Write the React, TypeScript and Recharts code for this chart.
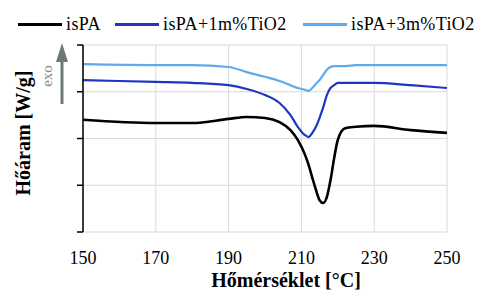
import { CartesianGrid, Legend, Line, LineChart, XAxis, YAxis } from "recharts";

// temperature [°C]
const temps = [150, 170, 180, 190, 195, 200, 204, 207, 209, 211, 212, 213, 214, 215, 216, 217, 218, 219, 220, 222, 225, 230, 240, 250];
// heat flow, arbitrary units
const isPA = [2.4, 2.33, 2.33, 2.42, 2.46, 2.44, 2.35, 2.18, 1.97, 1.65, 1.43, 1.16, 0.9, 0.68, 0.62, 0.75, 1.11, 1.58, 1.97, 2.22, 2.25, 2.27, 2.18, 2.12];
const tio1 = [3.25, 3.21, 3.19, 3.14, 3.06, 2.93, 2.76, 2.5, 2.25, 2.07, 2.03, 2.12, 2.25, 2.44, 2.67, 2.93, 3.08, 3.14, 3.19, 3.19, 3.19, 3.19, 3.14, 3.08];
const tio3 = [3.59, 3.57, 3.57, 3.53, 3.42, 3.32, 3.23, 3.14, 3.08, 3.04, 3.02, 3.08, 3.17, 3.25, 3.36, 3.47, 3.53, 3.55, 3.55, 3.55, 3.57, 3.57, 3.57, 3.57];
const xTicks = [150, 170, 190, 210, 230, 250];
const yTicks = [0, 1, 2, 3, 4];

const data = temps.map((t, i) => ({ t, isPA: isPA[i], tio1: tio1[i], tio3: tio3[i] }));

const series = [
  { key: "isPA", name: "isPA", color: "#000000", width: 2.6 },
  { key: "tio1", name: "isPA+1m%TiO2", color: "#1f35c4", width: 2.2 },
  { key: "tio3", name: "isPA+3m%TiO2", color: "#5eaaec", width: 2.2 },
];

const legendPos = [18, 115, 303];

const serif = "'Liberation Serif', 'Times New Roman', serif";

function renderLegend(props: any) {
  const payload = props.payload || [];
  return (
    <div style={{ position: "relative", width: 479, height: 0, fontFamily: serif, fontSize: 18 }}>
      {payload.map((p: any, i: number) => (
        <div key={p.value} style={{ position: "absolute", left: legendPos[i], top: 0, display: "flex", alignItems: "center", whiteSpace: "nowrap" }}>
          <div style={{ width: 44, height: 3, background: p.color, marginRight: 4 }} />
          <span style={{ letterSpacing: 0.4 }}>{p.value}</span>
        </div>
      ))}
    </div>
  );
}

export default function App() {
  return (
    <div style={{ position: "absolute", left: 0, top: 0, width: 479, height: 294, background: "#fff" }}>
      <LineChart width={479} height={294} data={data} margin={{ top: 45, right: 32, bottom: 0, left: 53 }}>
        <CartesianGrid stroke="#d9d9d9" strokeWidth={1} />
        <XAxis
          dataKey="t"
          type="number"
          domain={[150, 250]}
          ticks={xTicks}
          axisLine={false}
          tickLine={false}
          tickSize={0}
          tickMargin={19}
          height={62}
          tick={{ fill: "#000", fontFamily: serif, fontSize: 18 }}
        />
        <YAxis
          type="number"
          domain={[0, 4]}
          ticks={yTicks}
          width={30}
          axisLine={{ stroke: "#000", strokeWidth: 1.5 }}
          tickLine={{ stroke: "#000", strokeWidth: 1.5 }}
          tickSize={6}
          tick={() => <g />}
        />
        <Legend verticalAlign="top" content={renderLegend} wrapperStyle={{ position: "absolute", top: 14, left: 0, height: 0 }} />
        {series.map((s) => (
          <Line
            key={s.key}
            dataKey={s.key}
            name={s.name}
            type="monotone"
            stroke={s.color}
            strokeWidth={s.width}
            dot={false}
            isAnimationActive={false}
          />
        ))}
      </LineChart>
      <svg width={479} height={294} style={{ position: "absolute", left: 0, top: 0, pointerEvents: "none" }}>
        <text x={30} y={133} transform="rotate(-90 30 133)" textAnchor="middle" fontFamily={serif} fontWeight="bold" fontSize={20}>
          Hőáram [W/g]
        </text>
        <text x={52} y={76} transform="rotate(-90 52 76)" textAnchor="middle" fontFamily={serif} fontSize={15} fill="#8a8a8a">
          exo
        </text>
        <line x1={62} y1={104} x2={62} y2={58} stroke="#6b7878" strokeWidth={3} />
        <polygon points="62,43 56,62 68,62" fill="#6b7878" />
        <text x={286} y={287} textAnchor="middle" fontFamily={serif} fontWeight="bold" fontSize={20}>
          Hőmérséklet [°C]
        </text>
      </svg>
    </div>
  );
}
